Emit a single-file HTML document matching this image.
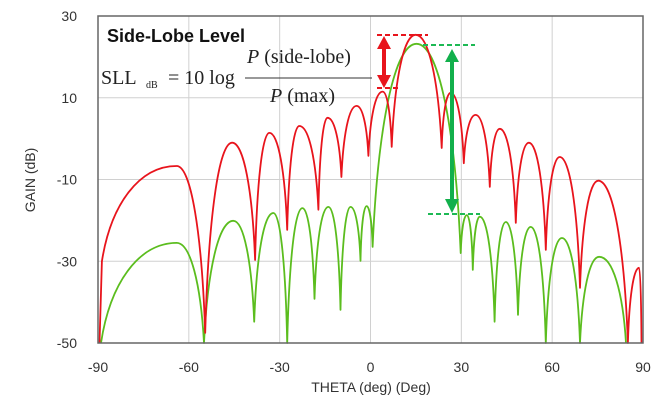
<!DOCTYPE html>
<html><head><meta charset="utf-8"><style>
html,body{margin:0;padding:0;background:#fff;}
svg{display:block;}
</style></head><body>
<svg id="chart" width="671" height="404" viewBox="0 0 671 404" xmlns="http://www.w3.org/2000/svg" font-family="Liberation Sans, Arial, sans-serif">
<g id="grid"></g>
<g id="series"></g>
<g id="axes"></g>
<g id="annot">
  <line x1="377" y1="35" x2="428" y2="35" stroke="#e8141c" stroke-width="2" stroke-dasharray="5,3"/>
  <line x1="377" y1="88" x2="400" y2="88" stroke="#e8141c" stroke-width="2" stroke-dasharray="5,3"/>
  <line x1="384" y1="46" x2="384" y2="78" stroke="#e8141c" stroke-width="4"/>
  <polygon points="384,36 377,49 391,49" fill="#e8141c"/>
  <polygon points="384,88 377,75 391,75" fill="#e8141c"/>
  <line x1="423" y1="45" x2="475" y2="45" stroke="#1db954" stroke-width="2" stroke-dasharray="5,3"/>
  <line x1="428" y1="214" x2="480" y2="214" stroke="#1db954" stroke-width="2" stroke-dasharray="5,3"/>
  <line x1="452" y1="58" x2="452" y2="202" stroke="#12b04c" stroke-width="4"/>
  <polygon points="452,49 445,62 459,62" fill="#12b04c"/>
  <polygon points="452,213 445,199 459,199" fill="#12b04c"/>
  <text x="107" y="42" font-size="18" font-weight="bold" fill="#111">Side-Lobe Level</text>
  <g font-family="Liberation Serif, serif" fill="#222">
    <text x="101" y="84" font-size="20">SLL</text>
    <text x="146" y="88" font-size="10">dB</text>
    <text x="168" y="84" font-size="20">= 10 log</text>
    <text x="247" y="63" font-size="20"><tspan font-style="italic">P</tspan> (side-lobe)</text>
    <line x1="245" y1="78" x2="372" y2="78" stroke="#333" stroke-width="1"/>
    <text x="270" y="102" font-size="20"><tspan font-style="italic">P</tspan> (max)</text>
  </g>
</g>
</svg>
<script>
// Data
const xTicks = [-90, -60, -30, 0, 30, 60, 90];
const yTicks = [30, 10, -10, -30, -50];
const redTheta = [-89.5,-88.7,-64,-54.6,-45.7,-38.1,-33.4,-27.5,-23.5,-17.2,-14.2,-9.6,-4.6,-0.7,4,7,14.9,23.5,26.5,30.8,34.7,39.4,42.7,48,52.3,57.9,62.5,69.2,75.2,85,88.7,89.5];
const redGain  = [-50,-30,-6.7,-47.5,-1.0,-29.7,1.4,-22.3,3.1,-17.4,5.1,-9.4,8.0,-4.2,11.5,-2.0,25.4,-2.3,11.2,-6,5.8,-11.8,2.4,-20.6,-1.0,-27.2,-4.5,-36.5,-10.3,-50,-31.6,-50];
const greenTheta = [-89,-64,-55,-45.3,-38.4,-32.1,-27.5,-22.5,-18.5,-13.9,-9.9,-6.6,-3.3,-1.3,0.7,15.2,29.8,31.8,33.8,36.1,41,44.7,48.7,52.9,57.9,63.2,69.2,75.5,84.4];
const greenGain  = [-50,-25.5,-50,-20.1,-44.8,-18.2,-50,-17,-39.2,-16.7,-41.9,-16.7,-29.9,-16.5,-26.5,23.2,-28,-18.7,-32.1,-19.1,-44.8,-20.4,-43.1,-21.6,-50,-24.3,-50,-28.9,-50];

const L=98, R=643, T=16, B=343;
const X = t => L + (t + 90) / 180 * (R - L);
const Y = g => T + (30 - g) / 80 * (B - T);
const NS = 'http://www.w3.org/2000/svg';
function mk(tag, attrs, parent){const e=document.createElementNS(NS,tag);for(const k in attrs)e.setAttribute(k,attrs[k]);parent.appendChild(e);return e;}

const grid=document.getElementById('grid');
xTicks.forEach(t=>{ if(t>-90&&t<90){
  const l=mk('line',{x1:X(t),x2:X(t),y1:T,y2:B,stroke:'#d0d0d0','stroke-width':1},grid);
  
  
}});
yTicks.forEach(g=>{ if(g<30&&g>-50){
  const l=mk('line',{x1:L,x2:R,y1:Y(g),y2:Y(g),stroke:'#d0d0d0','stroke-width':1},grid);
  
  
}});

function lobePath(th, gn){
  const pts = th.map((t,i)=>[X(t),Y(gn[i])]);
  const isPeak = i => i>0 && i<pts.length-1 && gn[i]>gn[i-1] && gn[i]>gn[i+1];
  let d = 'M'+pts[0][0].toFixed(1)+','+pts[0][1].toFixed(1);
  for(let i=1;i<pts.length;i++){
    const [x0,y0]=pts[i-1],[x1,y1]=pts[i];
    const dx=x1-x0, dy=y1-y0;
    let c1,c2;
    if(isPeak(i)){ c1=[x0+0.12*dx,y0+0.6*dy]; c2=[x1-0.5*dx,y1]; }
    else if(isPeak(i-1)){ c1=[x0+0.5*dx,y0]; c2=[x1-0.12*dx,y1-0.6*dy]; }
    else { c1=[x0+dx/3,y0+dy/3]; c2=[x1-dx/3,y1-dy/3]; }
    d+=' C'+c1.map(v=>v.toFixed(1)).join(',')+' '+c2.map(v=>v.toFixed(1)).join(',')+' '+x1.toFixed(1)+','+y1.toFixed(1);
  }
  return d;
}
const series=document.getElementById('series');
const gp=mk('path',{d:lobePath(greenTheta,greenGain),fill:'none',stroke:'#5bbd1e','stroke-width':1.8,'stroke-linejoin':'round'},series);


const rp=mk('path',{d:lobePath(redTheta,redGain),fill:'none',stroke:'#e8141c','stroke-width':1.8,'stroke-linejoin':'round'},series);



const axes=document.getElementById('axes');
const fr=mk('rect',{x:L,y:T,width:R-L,height:B-T,fill:'none',stroke:'#666','stroke-width':1.5},axes);


xTicks.forEach(t=>{
  const e=mk('text',{x:X(t),y:372,'text-anchor':'middle','font-size':14,fill:'#333'},axes);
  e.textContent=t;
  
  
});
yTicks.forEach(g=>{
  const e=mk('text',{x:77,y:Y(g)+5,'text-anchor':'end','font-size':14,fill:'#333'},axes);
  e.textContent=g;
  
  
});
const xt=mk('text',{x:371,y:392,'text-anchor':'middle','font-size':14,fill:'#333'},axes);
xt.textContent='THETA (deg) (Deg)';


const yt=mk('text',{x:0,y:0,'text-anchor':'middle','font-size':14,fill:'#333',transform:'translate(35,180) rotate(-90)'},axes);
yt.textContent='GAIN (dB)';


</script>
</body></html>
